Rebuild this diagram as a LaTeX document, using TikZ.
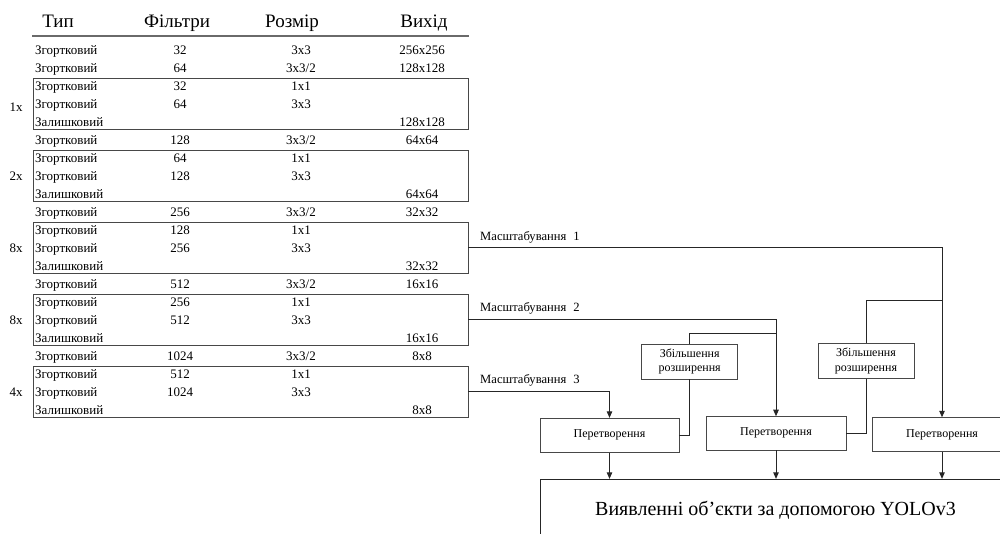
\documentclass[tikz,border=0pt]{standalone}
\usepackage{fontspec}
\setmainfont{Liberation Serif}
\usetikzlibrary{arrows.meta}
\definecolor{ln}{HTML}{262626}
\definecolor{bx}{HTML}{474747}
\definecolor{hl}{HTML}{6A6A6A}
\tikzset{
  cell/.style={inner sep=0pt, font=\fontsize{13}{15}\selectfont, anchor=base},
  cellw/.style={cell, anchor=base west},
  hdr/.style={inner sep=0pt, font=\fontsize{19}{22}\selectfont, anchor=base},
  grp/.style={draw=bx, line width=0.9pt, inner sep=0pt, minimum width=435pt, minimum height=51pt},
  scl/.style={inner sep=0pt, font=\fontsize{12.6}{14}\selectfont, anchor=base west},
  pbox/.style={draw=bx, line width=0.9pt, minimum width=139pt, minimum height=34pt, inner sep=0pt, font=\fontsize{12}{14}\selectfont},
  zbox/.style={draw=bx, line width=0.9pt, minimum width=96pt, minimum height=35pt, inner sep=0pt, font=\fontsize{12}{14.5}\selectfont, align=center},
  bigbox/.style={draw=ln, line width=0.9pt, minimum width=470pt, minimum height=61pt, inner sep=0pt, font=\fontsize{20}{24}\selectfont},
  conn/.style={draw=ln, line width=0.9pt},
  arr/.style={conn, -{Triangle[length=6.5pt,width=5.5pt]}},
}
\begin{document}
\begin{tikzpicture}[x=1pt,y=-1pt]
\useasboundingbox (0,0) rectangle (1000,533);
\clip (0,0) rectangle (1000,533);
% header
\node[hdr] (h1) at (58,27) {Тип};
\node[hdr] (h2) at (177,27) {Фільтри};
\node[hdr] (h3) at (292,27) {Розмір};
\node[hdr] (h4) at (424,27) {Вихід};
\coordinate (hlA) at (32,36);
\coordinate (hlB) at (469,36);
\draw[draw=hl, line width=1.3pt] (hlA) -- (hlB);
% rows
\foreach \i/\a/\b/\c/\d in {
 1/Згортковий/32/3x3/256x256,
 2/Згортковий/64/3x3\slash 2/128x128,
 3/Згортковий/32/1x1/{},
 4/Згортковий/64/3x3/{},
 5/Залишковий/{}/{}/128x128,
 6/Згортковий/128/3x3\slash 2/64x64,
 7/Згортковий/64/1x1/{},
 8/Згортковий/128/3x3/{},
 9/Залишковий/{}/{}/64x64,
 10/Згортковий/256/3x3\slash 2/32x32,
 11/Згортковий/128/1x1/{},
 12/Згортковий/256/3x3/{},
 13/Залишковий/{}/{}/32x32,
 14/Згортковий/512/3x3\slash 2/16x16,
 15/Згортковий/256/1x1/{},
 16/Згортковий/512/3x3/{},
 17/Залишковий/{}/{}/16x16,
 18/Згортковий/1024/3x3\slash 2/8x8,
 19/Згортковий/512/1x1/{},
 20/Згортковий/1024/3x3/{},
 21/Залишковий/{}/{}/8x8}{
  \pgfmathsetmacro\yb{54+18*(\i-1)}
  \node[cellw] (t\i) at (35,\yb) {\a};
  \node[cell] (f\i) at (180,\yb) {\b};
  \node[cell] (s\i) at (301,\yb) {\c};
  \node[cell] (o\i) at (422,\yb) {\d};
}
% group boxes
\node[grp] (b1) at (250.5,103.5) {};
\node[grp] (b2) at (250.5,175.5) {};
\node[grp] (b3) at (250.5,247.5) {};
\node[grp] (b4) at (250.5,319.5) {};
\node[grp] (b5) at (250.5,391.5) {};
\node[cell] (m1) at (16,111) {1x};
\node[cell] (m2) at (16,180) {2x};
\node[cell] (m3) at (16,252) {8x};
\node[cell] (m4) at (16,324) {8x};
\node[cell] (m5) at (16,396) {4x};
% scale labels
\node[scl] (l1) at (480,240) {Масштабування\hspace{7pt}1};
\node[scl] (l2) at (480,311) {Масштабування\hspace{7pt}2};
\node[scl] (l3) at (480,383.5) {Масштабування\hspace{7pt}3};
% upsampling boxes
\node[zbox] (zb1) at (689.7,361.5) {Збільшення\\розширення};
\node[zbox] (zb2) at (866,361.2) {Збільшення\\розширення};
% transform boxes
\node[pbox] (p1) at (609.5,435.3) {Перетворення};
\node[pbox, minimum width=140pt, minimum height=33.3pt] (p2) at (776,433.3) {Перетворення};
\node[pbox, minimum width=140pt] (p3) at (942,434.7) {Перетворення};
% output box
\node[bigbox] (big) at (775.5,509.8) {Виявленні об’єкти за допомогою YOLOv3};
% junctions
\coordinate (j1) at (942,300);
\coordinate (j2) at (776,333);
% connectors
\draw[arr] (b3.east) -| (p3.north);
\draw[arr] (b4.east) -| (p2.north);
\draw[arr] (b5.east) -| (p1.north);
\draw[conn] (j1) -| (zb2.north);
\draw[conn] (j2) -| (zb1.north);
\draw[conn] (zb1.south) |- (p1.east);
\draw[conn] (zb2.south) |- (p2.east);
\draw[arr] (p1.south) -- (p1.south |- big.north);
\draw[arr] (p2.south) -- (p2.south |- big.north);
\draw[arr] (p3.south) -- (p3.south |- big.north);
\end{tikzpicture}
\end{document}
